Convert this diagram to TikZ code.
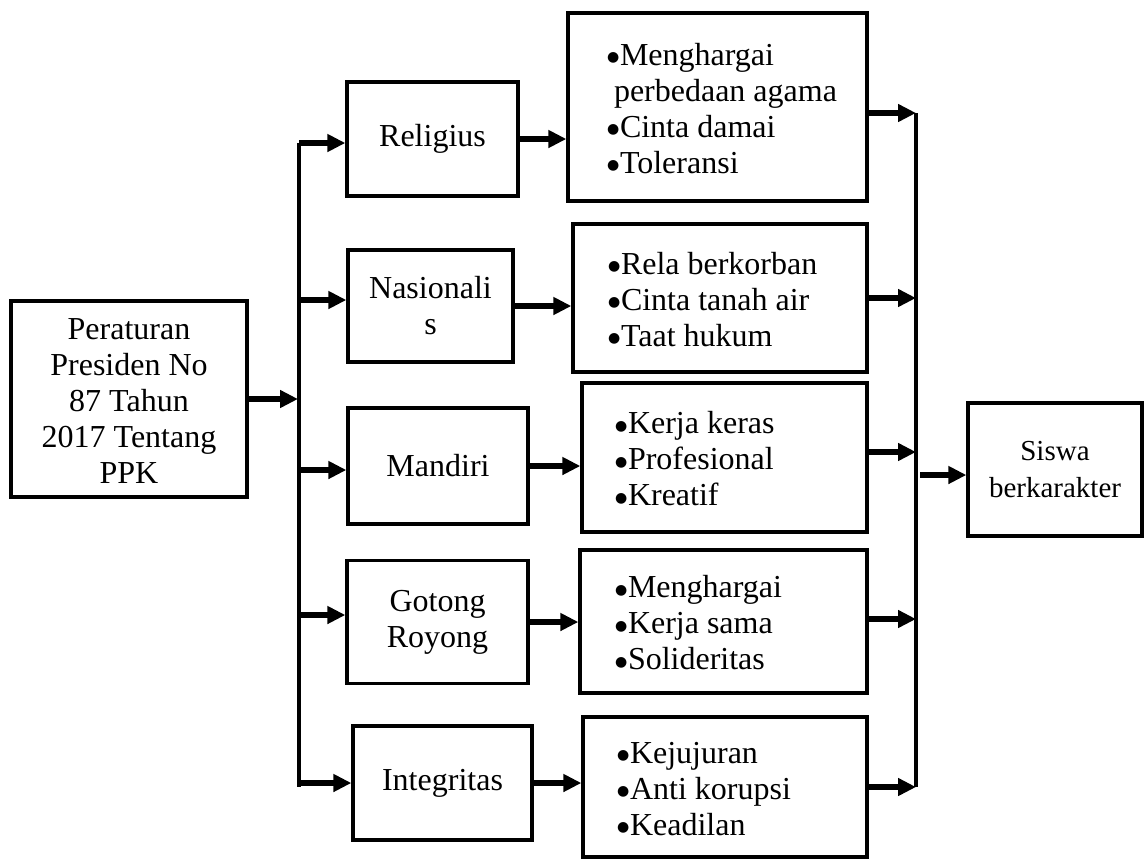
\documentclass[tikz,border=0pt]{standalone}
\usepackage{fontspec}
\setmainfont{Liberation Serif}
\newfontfamily\bulfont{DejaVu Sans}
\usetikzlibrary{arrows.meta}
\newcommand\bu{\makebox[13pt][l]{\raisebox{3.5pt}{\bulfont\fontsize{14}{14}\selectfont ●}}}
% #1 box width, #2 left indent, #3 rows
\newcommand\blist[3]{\makebox[#1][l]{\hspace*{#2}\raisebox{-5pt}[\height][\depth]{\begin{tabular}{@{}l@{}}#3\end{tabular}}}}
\begin{document}
\begin{tikzpicture}[x=1pt,y=-1pt,
  box/.style={draw, line width=3.3pt, align=center, inner sep=0pt,
    font=\fontsize{32}{36}\selectfont},
  listbox/.style={draw, line width=3.3pt, inner sep=0pt,
    font=\fontsize{32}{36}\selectfont},
  conn/.style={line width=6pt, -{Triangle[length=18pt,width=17pt]}},
  bus/.style={line width=3.3pt}]
\useasboundingbox (0,0) rectangle (1145,860);

% source
\node[box, minimum width=236pt, minimum height=196pt] (L) at (129,399)
  {\raisebox{-5pt}[\height][\depth]{\begin{tabular}{@{}c@{}}Peraturan\\Presiden No\\87 Tahun\\2017 Tentang\\PPK\end{tabular}}};

% values
\node[box, minimum width=171pt, minimum height=114pt] (R1) at (432.5,139) {Religius};
\node[box, minimum width=165pt, minimum height=112pt] (R2) at (430.5,306) {Nasionali\\s};
\node[box, minimum width=180pt, minimum height=116pt] (R3) at (438,466) {Mandiri};
\node[box, minimum width=181pt, minimum height=123pt] (R4) at (437.5,622) {Gotong\\Royong};
\node[box, minimum width=179pt, minimum height=114pt] (R5) at (442.5,783) {Integritas};

% lists
\node[listbox, minimum height=188pt] (B1) at (717.5,107)
  {\blist{299pt}{39pt}{\bu Menghargai\\\hspace*{7pt}perbedaan agama\\\bu Cinta damai\\\bu Toleransi}};
\node[listbox, minimum height=148pt] (B2) at (720,298)
  {\blist{294pt}{35pt}{\bu Rela berkorban\\\bu Cinta tanah air\\\bu Taat hukum}};
\node[listbox, minimum height=149pt] (B3) at (724.5,457.5)
  {\blist{285pt}{33pt}{\bu Kerja keras\\\bu Profesional\\\bu Kreatif}};
\node[listbox, minimum height=143pt] (B4) at (723.5,621.5)
  {\blist{287pt}{35pt}{\bu Menghargai\\\bu Kerja sama\\\bu Solideritas}};
\node[listbox, minimum height=140pt] (B5) at (725,787)
  {\blist{284pt}{34pt}{\bu Kejujuran\\\bu Anti korupsi\\\bu Keadilan}};

% result
\node[box, minimum width=174pt, minimum height=133pt,
  font=\fontsize{29}{37}\selectfont] (S) at (1055,469.5) {Siswa\\berkarakter};

% buses
\coordinate (lt) at (299,143);
\coordinate (lb) at (299,787);
\coordinate (rt) at (916,113);
\coordinate (rb) at (916,787);
\draw[bus] (lt) -- (lb);
\draw[bus] (rt) -- (rb);

% source to left bus
\coordinate (lin) at (298,399);
\draw[conn] (L.east |- lin) -- (lin);

% left bus to values
\coordinate (a1) at (299,143);
\coordinate (a2) at (299,300);
\coordinate (a3) at (299,470);
\coordinate (a4) at (299,615);
\coordinate (a5) at (299,783);
\draw[conn] (a1) -- (a1 -| R1.west);
\draw[conn] (a2) -- (a2 -| R2.west);
\draw[conn] (a3) -- (a3 -| R3.west);
\draw[conn] (a4) -- (a4 -| R4.west);
\draw[conn] (a5) -- (a5 -| R5.west);

% values to lists
\draw[conn] (R1.east) -- (R1.east -| B1.west);
\draw[conn] (R2.east) -- (R2.east -| B2.west);
\draw[conn] (R3.east) -- (R3.east -| B3.west);
\draw[conn] (R4.east) -- (R4.east -| B4.west);
\draw[conn] (R5.east) -- (R5.east -| B5.west);

% lists to right bus
\coordinate (c1) at (916,113);
\coordinate (c2) at (916,298);
\coordinate (c3) at (916,452);
\coordinate (c4) at (916,619);
\coordinate (c5) at (916,787);
\draw[conn] (B1.east |- c1) -- (c1);
\draw[conn] (B2.east |- c2) -- (c2);
\draw[conn] (B3.east |- c3) -- (c3);
\draw[conn] (B4.east |- c4) -- (c4);
\draw[conn] (B5.east |- c5) -- (c5);

% right bus to result
\coordinate (sout) at (920,475);
\draw[conn] (sout) -- (sout -| S.west);
\end{tikzpicture}
\end{document}
